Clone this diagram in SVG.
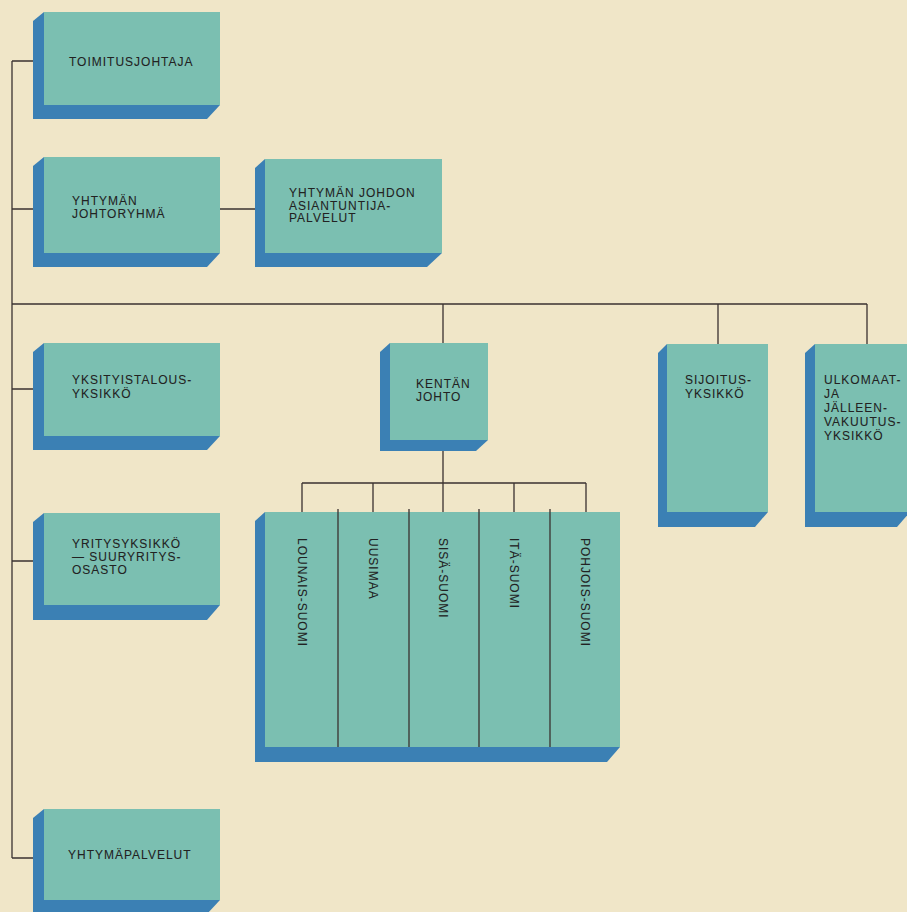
<svg xmlns="http://www.w3.org/2000/svg" width="907" height="912" viewBox="0 0 907 912">
<style>
.bg{fill:#f0e6c8}
.face{fill:#7bbfb1}
.side{fill:#3b80b4}
.ln{stroke:#3a3230;stroke-width:1.3;fill:none}
.t{font-family:"Liberation Sans",Arial,sans-serif;font-size:12px;letter-spacing:1px;fill:#222;stroke:#222;stroke-width:0.08}
</style>
<rect class="bg" x="0" y="0" width="907" height="912"/>
<g id="connectors" class="ln">
<path d="M12 61 V858"/>
<path d="M12 61 H33 M12 209 H33 M12 389 H33 M12 561 H33 M12 858 H33"/>
<path d="M220 209 H255"/>
<path d="M12 304 H867 M443 304 V343 M718 304 V344 M867 304 V344"/>
<path d="M443 451 V512 M302 483 H586 M302 483 V512 M373 483 V512 M514 483 V512 M586 483 V512"/>
</g>
<g id="toimitusjohtaja">
<polygon class="side" points="44,12 33,21 33,119 207,119 220,105"/>
<rect class="face" x="44" y="12" width="176" height="93"/>
<text class="t" x="69" y="66">TOIMITUSJOHTAJA</text>
</g>
<g id="johtoryhma">
<polygon class="side" points="44,157 33,166 33,267 207,267 220,253"/>
<rect class="face" x="44" y="157" width="176" height="96"/>
<text class="t" x="72" y="205">YHTYMÄN</text>
<text class="t" x="72" y="217.5">JOHTORYHMÄ</text>
</g>
<g id="asiantuntijapalvelut">
<polygon class="side" points="265,159 255,168 255,267 427,267 442,253"/>
<rect class="face" x="265" y="159" width="177" height="94"/>
<text class="t" x="289" y="197">YHTYMÄN JOHDON</text>
<text class="t" x="289" y="209.5">ASIANTUNTIJA-</text>
<text class="t" x="289" y="222">PALVELUT</text>
</g>
<g id="yksityistalous">
<polygon class="side" points="44,343 33,352 33,450 207,450 220,436"/>
<rect class="face" x="44" y="343" width="176" height="93"/>
<text class="t" x="72" y="384">YKSITYISTALOUS-</text>
<text class="t" x="72" y="397.5">YKSIKKÖ</text>
</g>
<g id="kentan-johto">
<polygon class="side" points="390,343 380,352 380,451 476,451 488,440"/>
<rect class="face" x="390" y="343" width="98" height="97"/>
<text class="t" x="416" y="388">KENTÄN</text>
<text class="t" x="416" y="401">JOHTO</text>
</g>
<g id="sijoitus">
<polygon class="side" points="667,344 658,353 658,527 755,527 768,512"/>
<rect class="face" x="667" y="344" width="101" height="168"/>
<text class="t" x="685" y="384">SIJOITUS-</text>
<text class="t" x="685" y="398">YKSIKKÖ</text>
</g>
<g id="ulkomaat">
<polygon class="side" points="815,344 805,353 805,527 897,527 910,512"/>
<rect class="face" x="815" y="344" width="95" height="168"/>
<text class="t" x="824" y="384">ULKOMAAT-</text>
<text class="t" x="824" y="398">JA</text>
<text class="t" x="824" y="412">JÄLLEEN-</text>
<text class="t" x="824" y="426">VAKUUTUS-</text>
<text class="t" x="824" y="440">YKSIKKÖ</text>
</g>
<g id="alueet">
<polygon class="side" points="265,512 255,521 255,762 607,762 620,747"/>
<rect class="face" x="265" y="512" width="355" height="235"/>
<path class="ln" d="M338 509 V747 M409 509 V747 M479 509 V747 M550 509 V747"/>
<text class="t" transform="translate(297.5,538) rotate(90)">LOUNAIS-SUOMI</text>
<text class="t" transform="translate(368.5,538) rotate(90)">UUSIMAA</text>
<text class="t" transform="translate(438.5,538) rotate(90)">SISÄ-SUOMI</text>
<text class="t" transform="translate(509.5,538) rotate(90)">ITÄ-SUOMI</text>
<text class="t" transform="translate(580.5,538) rotate(90)">POHJOIS-SUOMI</text>
</g>
<g id="yritysyksikko">
<polygon class="side" points="44,513 33,522 33,620 207,620 220,605"/>
<rect class="face" x="44" y="513" width="176" height="92"/>
<text class="t" x="72" y="548">YRITYSYKSIKKÖ</text>
<text class="t" x="72" y="561">— SUURYRITYS-</text>
<text class="t" x="72" y="574">OSASTO</text>
</g>
<g id="yhtymapalvelut">
<polygon class="side" points="44,809 33,818 33,914 207,914 220,900"/>
<rect class="face" x="44" y="809" width="176" height="91"/>
<text class="t" x="68" y="859">YHTYMÄPALVELUT</text>
</g>
</svg>
